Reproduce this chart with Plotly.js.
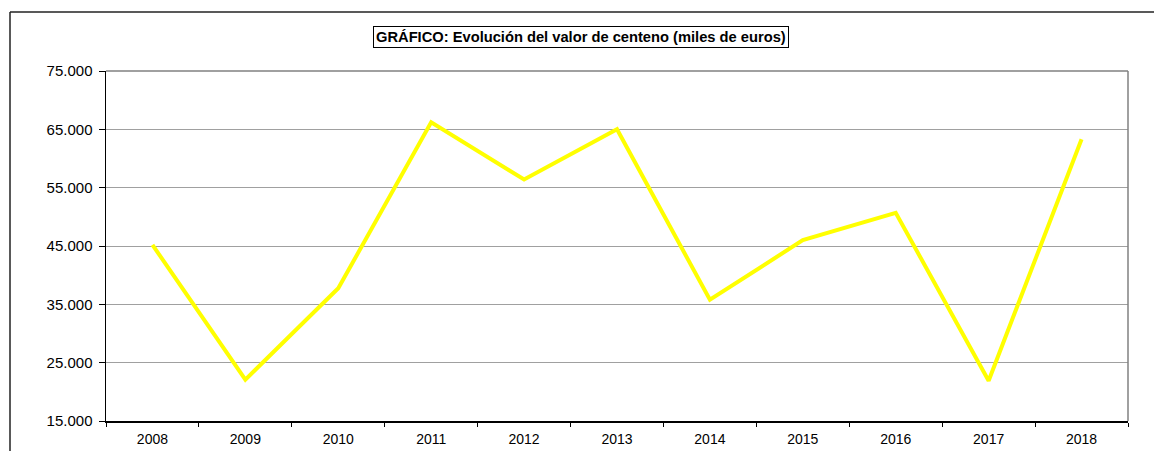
<!DOCTYPE html>
<html>
<head>
<meta charset="utf-8">
<script src="https://cdn.plot.ly/plotly-3.0.1.min.js"></script>
<style>
html,body{margin:0;padding:0;background:#fff;}
#chart{width:1154px;height:451px;}
</style>
</head>
<body>
<div id="chart"></div>
<script>
const years = ['2008','2009','2010','2011','2012','2013','2014','2015','2016','2017','2018'];
const valores = [45200, 22100, 37750, 66200, 56400, 65000, 35800, 46000, 50700, 21900, 63300];
const titulo = 'GRÁFICO: Evolución del valor de centeno (miles de euros)';
const yTicks = [15000, 25000, 35000, 45000, 55000, 65000, 75000];

const W = 1154, H = 451;
const M = {l: 106, r: 26, t: 71, b: 30};
const pw = W - M.l - M.r, ph = H - M.t - M.b;
const px = x => (x - M.l) / pw;
const py = y => (H - M.b - y) / ph;

const trace = {
  type: 'scatter', mode: 'lines',
  x: years, y: valores,
  line: {color: '#FFFF00', width: 4},
  hoverinfo: 'x+y'
};

const layout = {
  width: W, height: H,
  margin: M,
  paper_bgcolor: '#fff', plot_bgcolor: '#fff',
  separators: ',.',
  showlegend: false,
  font: {family: '"Liberation Sans", Arial, sans-serif', size: 14, color: '#000'},
  xaxis: {
    type: 'category',
    showgrid: false, zeroline: false,
    showline: true, linecolor: '#000', linewidth: 1.5,
    ticks: 'outside', ticklen: 4, tickcolor: '#000', tickwidth: 1,
    tickson: 'boundaries',
    ticklabelstandoff: 5,
    tickfont: {size: 14},
    range: [-0.5, years.length - 0.5]
  },
  yaxis: {
    range: [15000, 75000],
    tickvals: yTicks,
    tickformat: ',d',
    showgrid: true, gridcolor: '#a0a0a0', gridwidth: 1,
    zeroline: false,
    showline: true, linecolor: '#000', linewidth: 1.5,
    ticks: 'outside', ticklen: 6, tickcolor: '#000', tickwidth: 1,
    ticklabelstandoff: 3,
    tickfont: {size: 15}
  },
  shapes: [
    {type: 'line', xref: 'paper', yref: 'paper', x0: 0, x1: 1, y0: 1, y1: 1, line: {color: '#808080', width: 1.5}},
    {type: 'line', xref: 'paper', yref: 'paper', x0: 1, x1: 1, y0: 0, y1: 1, line: {color: '#808080', width: 1.5}},
    {type: 'line', xref: 'paper', yref: 'paper', x0: px(10), x1: px(W + 5), y0: py(12), y1: py(12), line: {color: '#222', width: 1.5}},
    {type: 'line', xref: 'paper', yref: 'paper', x0: px(10), x1: px(10), y0: py(12), y1: py(H + 5), line: {color: '#222', width: 1.5}}
  ],
  annotations: [{
    xref: 'paper', yref: 'paper',
    x: px(580.5), y: py(36.5), xanchor: 'center', yanchor: 'middle',
    text: '<b>' + titulo + '</b>',
    showarrow: false,
    font: {size: 14.7, color: '#000'},
    bordercolor: '#000', borderwidth: 1, borderpad: 2, bgcolor: '#fff'
  }]
};

Plotly.newPlot('chart', [trace], layout, {displayModeBar: false, staticPlot: true});
</script>
</body>
</html>
